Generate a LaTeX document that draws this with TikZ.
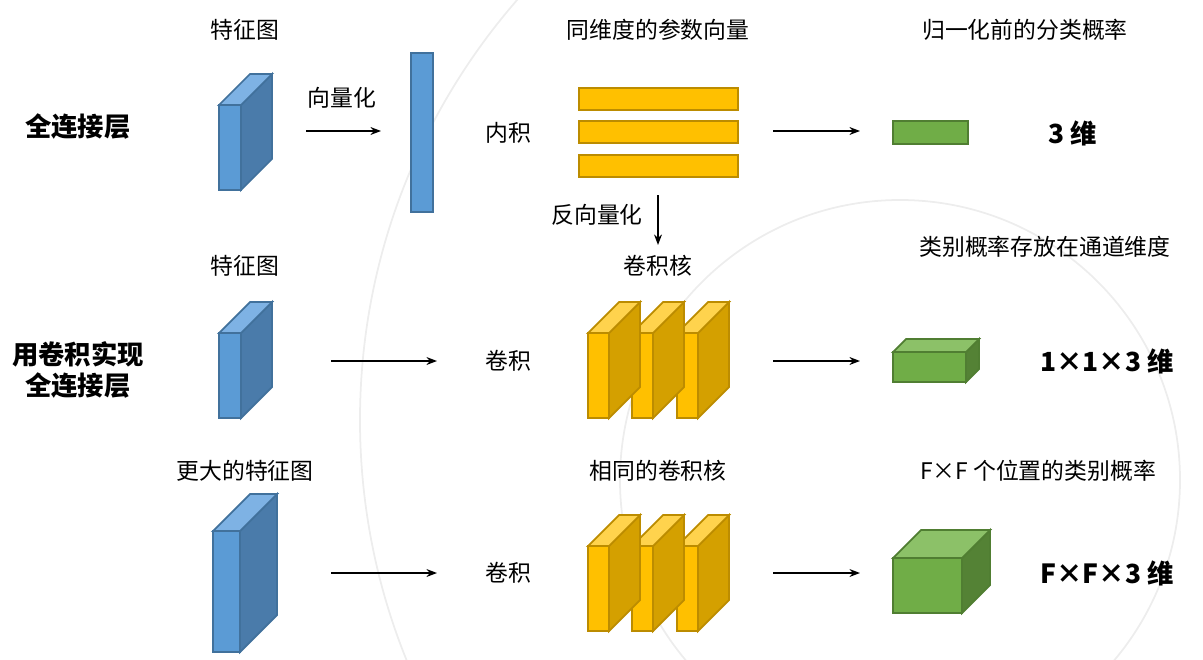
\documentclass[tikz,border=0pt]{standalone}
\usepackage{fontspec}
\setmainfont{Noto Sans CJK SC}
\usetikzlibrary{arrows.meta}
\definecolor{bluef}{HTML}{5B9BD5}\definecolor{blues}{HTML}{4A7BAA}\definecolor{bluet}{HTML}{7EB2E4}\definecolor{bluel}{HTML}{41719C}
\definecolor{yelf}{HTML}{FFC000}\definecolor{yels}{HTML}{D4A000}\definecolor{yelt}{HTML}{FFD34D}\definecolor{yell}{HTML}{BC8C00}
\definecolor{grnf}{HTML}{70AD47}\definecolor{grns}{HTML}{548235}\definecolor{grnt}{HTML}{8CC168}\definecolor{grnl}{HTML}{507E32}
% cuboid: #1 x, #2 top y, #3 width, #4 height, #5 depth, #6 colour prefix
\newcommand\cuboid[6]{
 \fill[#6s,draw=#6l,line width=1pt] (#1+#3,#2) -- ++(#5,-#5) -- ++(0,#4) -- ++(-#5,#5) -- cycle;
 \fill[#6t,draw=#6l,line width=1pt] (#1,#2) -- ++(#5,-#5) -- ++(#3,0) -- ++(-#5,#5) -- cycle;
 \fill[#6f,draw=#6l,line width=1pt] (#1,#2) rectangle ++(#3,#4);
}
\tikzset{lbl/.style={font=\fontsize{13}{15}\selectfont},
 bold/.style={font=\fontsize{15}{18}\selectfont\bfseries, align=center},
 arr/.style={-{Stealth[length=6pt]},line width=0.9pt}}
\begin{document}
\begin{tikzpicture}[x=0.02cm,y=-0.02cm]
\useasboundingbox (0,0) rectangle (1203,659);
\draw[black!7,line width=1pt] (1000,420) circle (640);
\draw[black!7,line width=1pt] (900,480) circle (280);

% row 1
\cuboid{219}{105}{22}{85}{31}{blue}
\fill[bluef,draw=bluel,line width=1pt] (411,53) rectangle (433,212);
\foreach \y in {88,121,155}
 \fill[yelf,draw=yell,line width=1pt] (579,\y) rectangle (738,\y+22);
\fill[grnf,draw=grnl,line width=1pt] (893,121) rectangle (968,144);
\coordinate (a1) at (306,131); \coordinate (b1) at (381,131);
\coordinate (c1) at (773,131); \coordinate (d1) at (860,131);
\coordinate (v1) at (658,195); \coordinate (v2) at (658,245);
\draw[arr] (a1) -- (b1); \draw[arr] (c1) -- (d1); \draw[arr] (v1) -- (v2);

% row 2
\cuboid{219}{333}{22}{85}{31}{blue}
\foreach \x in {677,632,588}
 {\cuboid{\x}{333}{21}{85}{31}{yel}}
\cuboid{893}{352}{73}{30}{13}{grn}
\coordinate (a2) at (331,361); \coordinate (b2) at (437,361);
\coordinate (c2) at (773,361); \coordinate (d2) at (860,361);
\draw[arr] (a2) -- (b2); \draw[arr] (c2) -- (d2);

% row 3
\cuboid{213}{531}{27}{121}{37}{blue}
\foreach \x in {677,632,588}
 {\cuboid{\x}{546}{21}{85}{31}{yel}}
\cuboid{893}{558}{69}{55}{28}{grn}
\coordinate (a3) at (331,573); \coordinate (b3) at (437,573);
\coordinate (c3) at (773,573); \coordinate (d3) at (860,573);
\draw[arr] (a3) -- (b3); \draw[arr] (c3) -- (d3);

% labels
\node[lbl] (t1) at (245,30) {特征图};
\node[lbl] (t2) at (342,98) {向量化};
\node[lbl] (t3) at (508,133) {内积};
\node[lbl] (t4) at (658,30) {同维度的参数向量};
\node[lbl] (t5) at (1025,30) {归一化前的分类概率};
\node[bold] (t6) at (1073,133) {3 维};
\node[bold] (t7) at (78,127) {全连接层};
\node[lbl] (t8) at (597,215) {反向量化};
\node[lbl] (t9) at (245,266) {特征图};
\node[lbl] (t10) at (658,266) {卷积核};
\node[lbl] (t11) at (1045,247) {类别概率存放在通道维度};
\node[bold] (t12) at (78,370) {用卷积实现\\全连接层};
\node[lbl] (t13) at (508,361) {卷积};
\node[bold] (t14) at (1107,361) {1×1×3 维};
\node[lbl] (t15) at (245,471) {更大的特征图};
\node[lbl] (t16) at (658,471) {相同的卷积核};
\node[lbl] (t17) at (1038,471) {F×F 个位置的类别概率};
\node[lbl] (t18) at (508,573) {卷积};
\node[bold] (t19) at (1107,573) {F×F×3 维};
\end{tikzpicture}
\end{document}
